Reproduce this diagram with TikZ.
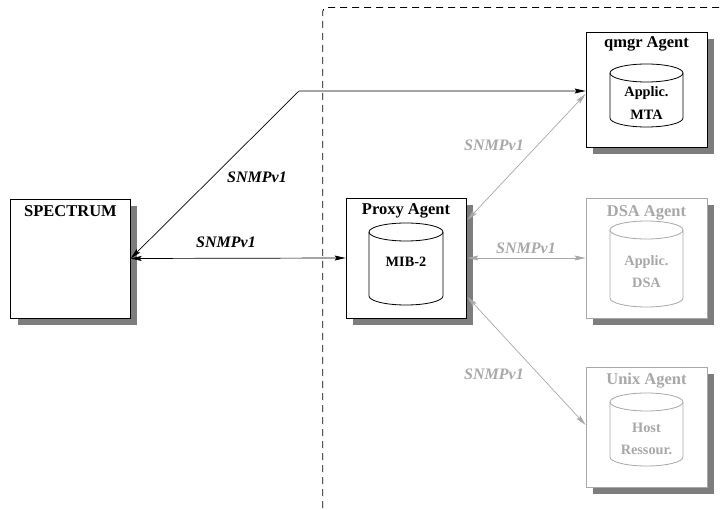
\documentclass[tikz,border=0pt]{standalone}
\usepackage{fontspec}
\setmainfont{Liberation Serif}
\usetikzlibrary{arrows.meta,shadows}
\definecolor{lgray}{RGB}{168,168,168}
\definecolor{sgray}{RGB}{125,125,125}
\newcommand\drawdb[5]{% cx, rx, ytop-center, ybottom-center, color
  \fill[white] (#1-#2,#3) -- (#1-#2,#4) arc[start angle=180,end angle=0,x radius=#2,y radius=9] -- (#1+#2,#3) -- cycle;
  \draw[#5,line width=0.8pt] (#1,#3) ellipse[x radius=#2,y radius=9];
  \draw[#5,line width=0.8pt] (#1-#2,#3) -- (#1-#2,#4) arc[start angle=180,end angle=0,x radius=#2,y radius=9] -- (#1+#2,#3);
}
\begin{document}
\begin{tikzpicture}[x=1pt,y=-1pt,
  box/.style={draw,fill=white,line width=0.8pt,rectangle,inner sep=0pt,
    drop shadow={shadow xshift=7pt,shadow yshift=-7pt,fill=sgray,opacity=1}},
  title/.style={font=\fontsize{16.5}{18}\selectfont\bfseries,inner sep=0pt},
  inner/.style={font=\fontsize{14.3}{16}\selectfont\bfseries,inner sep=0pt},
  lab/.style={font=\fontsize{16}{18}\selectfont\bfseries\itshape,inner sep=0pt},
  blk/.style={line width=0.7pt,{Stealth[length=11pt,width=5pt,inset=2pt]}-{Stealth[length=11pt,width=5pt,inset=2pt]}},
  gry/.style={lgray,line width=0.7pt,{Stealth[length=11pt,width=5pt,inset=2pt]}-{Stealth[length=11pt,width=5pt,inset=2pt]}}
]
\useasboundingbox (0,0) rectangle (720,510);

% dashed boundary
\draw[line width=0.8pt,dash pattern=on 7pt off 5pt,rounded corners=4pt]
  (322.7,508) -- (322.7,7.5) -- (720,7.5);

% boxes
\node[box,minimum width=119.5pt,minimum height=119pt] (spec) at (70.5,258.5) {};
\node[box,minimum width=120pt,minimum height=120pt] (proxy) at (406,258) {};
\node[box,minimum width=121pt,minimum height=115pt] (qmgr) at (646.5,89.5) {};
\node[box,draw=lgray,minimum width=121pt,minimum height=120pt] (dsa) at (646.5,258) {};
\node[box,draw=lgray,minimum width=121pt,minimum height=120pt] (unix) at (646.5,427) {};

% cylinders
\drawdb{406}{37}{232}{296}{black}
\drawdb{646.5}{36.5}{73}{118}{black}
\drawdb{646.5}{36.5}{230}{298}{lgray}
\drawdb{646.5}{36.5}{402}{457}{lgray}

% titles and contents
\node[title] (tspec) at (70.5,211) {SPECTRUM};
\node[title] (tproxy) at (406,211) {Proxy Agent};
\node[title] (tqmgr) at (646.5,44) {qmgr Agent};
\node[title,lgray] (tdsa) at (646.5,213) {DSA Agent};
\node[title,lgray] (tunix) at (646.5,381) {Unix Agent};

\node[inner] (cproxy) at (406,262) {MIB-2};
\node[inner] (cqmgr1) at (646.5,93) {Applic.};
\node[inner] (cqmgr2) at (646.5,115) {MTA};
\node[inner,lgray] (cdsa1) at (646.5,262) {Applic.};
\node[inner,lgray] (cdsa2) at (646.5,283) {DSA};
\node[inner,lgray] (cunix1) at (646.5,428) {Host};
\node[inner,lgray] (cunix2) at (646.5,450) {Ressour.};

% connectors
\coordinate (bend) at (299,91);
\draw[blk] (spec.east) -- (bend) -- (bend -| qmgr.west);
\draw[blk] (spec.east) -- (proxy.west);
\draw[gry] ([yshift=38pt,xshift=1pt]proxy.east) -- ([yshift=-4.5pt]qmgr.west);
\draw[gry] ([xshift=1pt]proxy.east) -- (dsa.west);
\draw[gry] ([yshift=-39pt,xshift=1pt]proxy.east) -- ([yshift=2pt]unix.west);

% labels
\node[lab] (l1) at (257,177) {SNMPv1};
\node[lab] (l2) at (226,242) {SNMPv1};
\node[lab,lgray] (l3) at (494,145) {SNMPv1};
\node[lab,lgray] (l4) at (526,248) {SNMPv1};
\node[lab,lgray] (l5) at (494,374) {SNMPv1};
\end{tikzpicture}
\end{document}
